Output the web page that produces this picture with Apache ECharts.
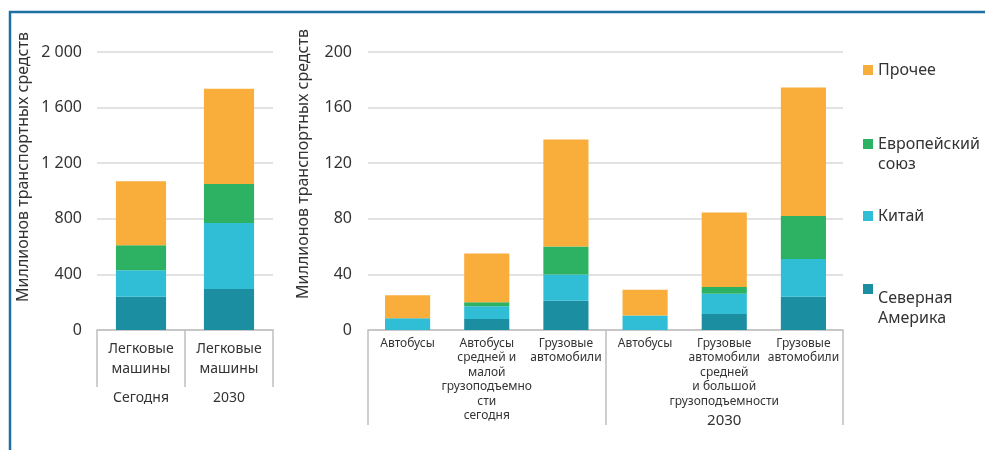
<!DOCTYPE html>
<html>
<head>
<meta charset="utf-8">
<script src="https://cdn.jsdelivr.net/npm/echarts@6/dist/echarts.min.js"></script>
<style>
  html, body { margin: 0; padding: 0; background: #ffffff; }
  #chart { width: 985px; height: 450px; }
</style>
</head>
<body>
<div id="chart"></div>
<script>
// Passenger cars (left panel), millions of vehicles
const carCategories = ['Легковые\nмашины', 'Легковые\nмашины'];
const carGroups = ['Сегодня', '2030'];
const carNorthAmerica = [240, 295];
const carChina = [190, 475];
const carEU = [180, 280];
const carOther = [460, 685];
const carTicks = [0, 400, 800, 1200, 1600, 2000];

// Buses and trucks (right panel), millions of vehicles
const commCategories = [
  'Автобусы',
  'Автобусы\nсредней и\nмалой\nгрузоподъемно\nсти\nсегодня',
  'Грузовые\nавтомобили',
  'Автобусы',
  'Грузовые\nавтомобили\nсредней\nи большой\nгрузоподъемности',
  'Грузовые\nавтомобили'
];
const commGroups = ['', '2030'];
const commNorthAmerica = [0, 8, 21, 0, 11.5, 24];
const commChina = [8.5, 9, 19, 10.5, 14.5, 27];
const commEU = [0, 3, 20, 0, 5, 31];
const commOther = [16.5, 35, 77, 18.5, 53.5, 92.5];
const commTicks = [0, 40, 80, 120, 160, 200];

const regionNames = ['Северная Америка', 'Китай', 'Европейский союз', 'Прочее'];
const regionColors = ['#1b8fa1', '#30bdd6', '#2db263', '#f9ad3b'];

const FONT = 'Noto Sans';
const TEXT = '#333333';
const AXIS = '#bfbfbf';
const GRID = '#d9d9d9';
const yTitle = 'Миллионов транспортных средств';

const chart = echarts.init(document.getElementById('chart'), null, { renderer: 'canvas' });

function fmtThousands(v) {
  return String(v).replace(/\B(?=(\d{3})+(?!\d))/g, ' ');
}

function valueAxis(gridIndex, ticks, margin, gap, shift) {
  return {
    type: 'value',
    gridIndex: gridIndex,
    position: 'left',
    min: ticks[0],
    max: ticks[ticks.length - 1],
    interval: ticks[1] - ticks[0],
    axisLine: { show: false },
    axisTick: { show: false },
    splitLine: { lineStyle: { color: GRID, width: 1.5 } },
    axisLabel: {
      margin: margin,
      fontFamily: FONT,
      fontSize: 16,
      color: TEXT,
      formatter: fmtThousands
    },
    name: yTitle,
    nameLocation: 'middle',
    nameRotate: 90,
    nameGap: gap,
    nameTextStyle: {
      fontFamily: FONT,
      fontSize: 16,
      color: TEXT,
      padding: [0, 0, 0, shift]
    }
  };
}

function stackSeries(xAxisIndex, yAxisIndex, stack, columns) {
  return columns.map(function (data, i) {
    return {
      name: regionNames[i],
      type: 'bar',
      stack: stack,
      xAxisIndex: xAxisIndex,
      yAxisIndex: yAxisIndex,
      barCategoryGap: '43%',
      itemStyle: { color: regionColors[i] },
      emphasis: { disabled: true },
      data: data
    };
  });
}

// One legend per region; a spacer line above multi-line names lifts the
// marker up to the first text line.
function legendItem(name, top, lines, spacer) {
  const text = lines.map(function (l) { return '{t|' + l + '}'; }).join('\n');
  return {
    left: 863,
    top: top,
    padding: 0,
    orient: 'vertical',
    icon: 'rect',
    itemWidth: 10,
    itemHeight: 10,
    selectedMode: false,
    data: [name],
    formatter: function () {
      return spacer ? '{s| }\n' + text : text;
    },
    textStyle: {
      fontFamily: FONT,
      fontSize: 16,
      color: TEXT,
      rich: {
        t: { fontFamily: FONT, fontSize: 16, color: TEXT, lineHeight: 20 },
        s: { fontSize: 4, lineHeight: spacer || 1 }
      }
    }
  };
}

const option = {
  backgroundColor: '#ffffff',
  animation: false,
  textStyle: { fontFamily: FONT },
  grid: [
    { left: 97, top: 52, width: 176, height: 278, outerBoundsMode: 'none', containLabel: false },
    { left: 368, top: 52, width: 475, height: 278, outerBoundsMode: 'none', containLabel: false }
  ],
  xAxis: [
    {
      type: 'category',
      gridIndex: 0,
      position: 'bottom',
      data: carCategories,
      axisLine: { lineStyle: { color: AXIS, width: 1.5 } },
      axisTick: { show: true, length: 57, lineStyle: { color: AXIS, width: 1.5 } },
      axisLabel: { interval: 0, margin: 9, fontFamily: FONT, fontSize: 14, lineHeight: 20, color: TEXT }
    },
    {
      type: 'category',
      gridIndex: 0,
      position: 'bottom',
      data: carGroups,
      axisLine: { show: false },
      axisTick: { show: false },
      axisLabel: { interval: 0, margin: 61, fontFamily: FONT, fontSize: 14, color: TEXT }
    },
    {
      type: 'category',
      gridIndex: 1,
      position: 'bottom',
      data: commCategories,
      axisLine: { lineStyle: { color: AXIS, width: 1.5 } },
      axisTick: { show: false },
      axisLabel: { interval: 0, margin: 6, fontFamily: FONT, fontSize: 12, lineHeight: 14.5, color: TEXT }
    },
    {
      type: 'category',
      gridIndex: 1,
      position: 'bottom',
      data: commGroups,
      axisLine: { show: false },
      axisTick: { show: true, length: 95, lineStyle: { color: AXIS, width: 1.5 } },
      axisLabel: { interval: 0, margin: 83, fontFamily: FONT, fontSize: 15, color: TEXT }
    }
  ],
  yAxis: [
    valueAxis(0, carTicks, 15, 66, 48),
    valueAxis(1, commTicks, 16, 57, 54)
  ],
  legend: [
    legendItem('Прочее', 62, ['Прочее'], 0),
    legendItem('Европейский союз', 122, ['Европейский', 'союз'], 20),
    legendItem('Китай', 208, ['Китай'], 0),
    legendItem('Северная Америка', 267, ['Северная', 'Америка'], 38)
  ],
  series: []
    .concat(stackSeries(0, 0, 'cars', [carNorthAmerica, carChina, carEU, carOther]))
    .concat(stackSeries(2, 1, 'commercial', [commNorthAmerica, commChina, commEU, commOther])),
  graphic: [
    {
      type: 'polyline',
      silent: true,
      shape: { points: [[10, 450], [10, 12], [985, 12]] },
      style: { stroke: '#1e6fa3', lineWidth: 2.5, fill: null }
    }
  ]
};

chart.setOption(option);
</script>
</body>
</html>
